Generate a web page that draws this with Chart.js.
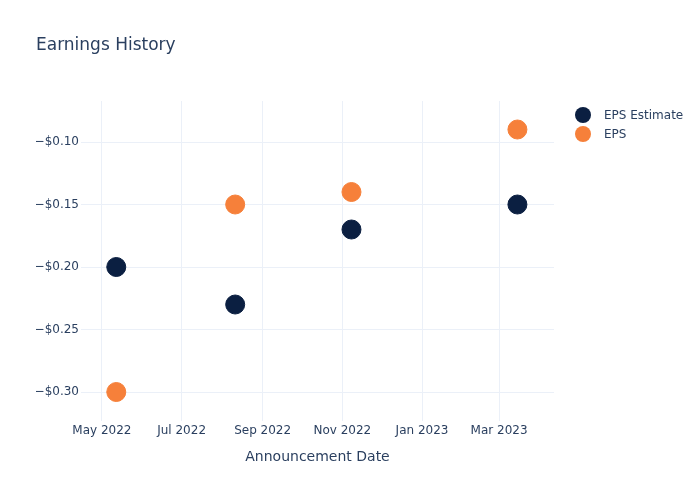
<!DOCTYPE html>
<html>
<head>
<meta charset="utf-8">
<script src="https://cdn.jsdelivr.net/npm/chart.js@4"></script>
<style>
  html, body { margin: 0; padding: 0; background: #fff; }
  #wrap { width: 700px; height: 500px; }
</style>
</head>
<body>
<div id="wrap"><canvas id="earningsChart" width="700" height="500"></canvas></div>
<script>
var announceDates = ['2022-05-12', '2022-08-11', '2022-11-08', '2023-03-15'];
var epsEstimate = [-0.20, -0.23, -0.17, -0.15];
var epsActual = [-0.30, -0.15, -0.14, -0.09];
var xTickDates = ['2022-05-01', '2022-07-01', '2022-09-01', '2022-11-01', '2023-01-01', '2023-03-01'];
var xTickLabels = ['May 2022', 'Jul 2022', 'Sep 2022', 'Nov 2022', 'Jan 2023', 'Mar 2023'];
var yTicks = [-0.30, -0.25, -0.20, -0.15, -0.10];

var textColor = '#2a3f5f';
var gridColor = '#ebf0f8';
var fontFamily = '"DejaVu Sans", Verdana, sans-serif';

function toPoints(values) {
    return values.map(function(v, i) {
        return { x: Date.parse(announceDates[i]), y: v };
    });
}

function money(v) {
    return (v < 0 ? '\u2212' : '') + '$' + Math.abs(v).toFixed(2);
}

// plotly-style legend drawn on the right side
var sideLegend = {
    id: 'sideLegend',
    afterDraw: function(chart) {
        var ctx = chart.ctx;
        ctx.save();
        ctx.font = '12px ' + fontFamily;
        ctx.textBaseline = 'middle';
        chart.data.datasets.forEach(function(ds, i) {
            var y = 115 + i * 19;
            ctx.beginPath();
            ctx.arc(583, y, 8, 0, Math.PI * 2);
            ctx.fillStyle = ds.backgroundColor;
            ctx.fill();
            ctx.fillStyle = textColor;
            ctx.fillText(ds.label, 604, y + 0.5);
        });
        ctx.restore();
    }
};

var ctx = document.getElementById('earningsChart').getContext('2d');
var earningsChart = new Chart(ctx, {
    type: 'scatter',
    data: {
        datasets: [{
            label: 'EPS Estimate',
            data: toPoints(epsEstimate),
            backgroundColor: '#0b1f41',
            borderColor: '#0b1f41',
            pointRadius: 9.5,
            pointHoverRadius: 9.5,
            borderWidth: 1
        }, {
            label: 'EPS',
            data: toPoints(epsActual),
            backgroundColor: '#f6803a',
            borderColor: '#f6803a',
            pointRadius: 9.5,
            pointHoverRadius: 9.5,
            borderWidth: 1
        }]
    },
    options: {
        responsive: false,
        animation: false,
        layout: { padding: { left: 36, right: 146, top: 0, bottom: 0 } },
        plugins: {
            legend: { display: false },
            tooltip: { enabled: false },
            title: {
                display: true,
                text: 'Earnings History',
                align: 'start',
                color: textColor,
                font: { family: fontFamily, size: 17, weight: 'normal' },
                padding: { top: 35, bottom: 45.6 }
            }
        },
        scales: {
            x: {
                type: 'linear',
                min: Date.parse('2022-04-15'),
                max: Date.parse('2023-04-12'),
                grid: { color: gridColor, drawTicks: false },
                border: { display: false },
                afterBuildTicks: function(scale) {
                    scale.ticks = xTickDates.map(function(d) { return { value: Date.parse(d) }; });
                },
                afterFit: function(scale) { scale.height = 79; },
                ticks: {
                    color: textColor,
                    padding: 3,
                    maxRotation: 0,
                    autoSkip: false,
                    font: { family: fontFamily, size: 12 },
                    callback: function(value) {
                        var i = xTickDates.map(function(d) { return Date.parse(d); }).indexOf(value);
                        return i >= 0 ? xTickLabels[i] : '';
                    }
                },
                title: {
                    display: true,
                    text: 'Announcement Date',
                    color: textColor,
                    font: { family: fontFamily, size: 14 },
                    padding: { top: 0, bottom: 34.6 }
                }
            },
            y: {
                min: -0.3232,
                max: -0.0672,
                grid: { color: gridColor, drawTicks: false },
                border: { display: false },
                afterBuildTicks: function(scale) {
                    scale.ticks = yTicks.map(function(v) { return { value: v }; });
                },
                afterFit: function(scale) { scale.width = 45; },
                ticks: {
                    color: textColor,
                    padding: 2,
                    font: { family: fontFamily, size: 12 },
                    callback: function(value) { return money(value); }
                }
            }
        }
    },
    plugins: [sideLegend]
});
</script>
</body>
</html>
